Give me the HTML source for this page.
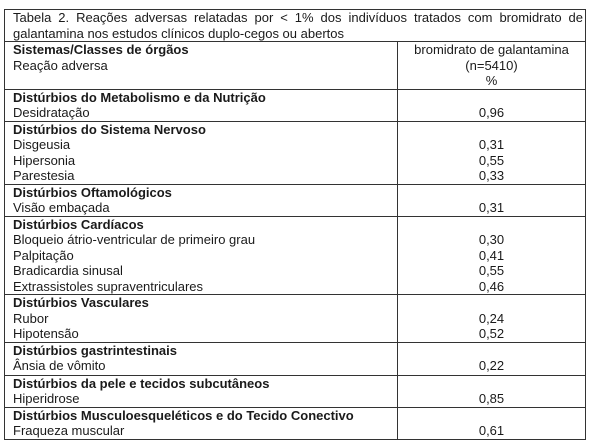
<!DOCTYPE html>
<html><head><meta charset="utf-8"><style>
body{margin:0;background:#fff;width:600px;height:445px;overflow:hidden;font-family:"Liberation Sans",Arial,sans-serif;font-size:13px;color:#1a1a1a}
table{position:absolute;left:4px;top:9px;width:581px;border-collapse:collapse;table-layout:fixed}
td{border:1px solid #333;padding:0 0 0 8px;vertical-align:top;line-height:15.5px;overflow:hidden;white-space:nowrap}
td.v{text-align:center;padding:0}
b{font-weight:bold}
.t1{text-align:justify;text-align-last:justify;width:570px}
</style></head><body>
<table>
<colgroup><col style="width:393px"><col style="width:188px"></colgroup>
<tr style="height:32px"><td colspan="2" style="padding-top:0"><div class="t1">Tabela 2. Reações adversas relatadas por &lt; 1% dos indivíduos tratados com bromidrato de</div>galantamina nos estudos clínicos duplo-cegos ou abertos</td></tr>
<tr style="height:47px"><td><b>Sistemas/Classes de órgãos</b><br>Reação adversa</td><td class="v">bromidrato de galantamina<br>(n=5410)<br>%</td></tr>
<tr style="height:32px"><td><b>Distúrbios do Metabolismo e da Nutrição</b><br>Desidratação</td><td class="v"><br>0,96</td></tr>
<tr style="height:61px"><td><b>Distúrbios do Sistema Nervoso</b><br>Disgeusia<br>Hipersonia<br>Parestesia</td><td class="v"><br>0,31<br>0,55<br>0,33</td></tr>
<tr style="height:32px"><td><b>Distúrbios Oftamológicos</b><br>Visão embaçada</td><td class="v"><br>0,31</td></tr>
<tr style="height:78px"><td><b>Distúrbios Cardíacos</b><br>Bloqueio átrio-ventricular de primeiro grau<br>Palpitação<br>Bradicardia sinusal<br>Extrassistoles supraventriculares</td><td class="v"><br>0,30<br>0,41<br>0,55<br>0,46</td></tr>
<tr style="height:47px"><td><b>Distúrbios Vasculares</b><br>Rubor<br>Hipotensão</td><td class="v"><br>0,24<br>0,52</td></tr>
<tr style="height:33px"><td><b>Distúrbios gastrintestinais</b><br>Ânsia de vômito</td><td class="v"><br>0,22</td></tr>
<tr style="height:31px"><td><b>Distúrbios da pele e tecidos subcutâneos</b><br>Hiperidrose</td><td class="v"><br>0,85</td></tr>
<tr style="height:32px"><td><b>Distúrbios Musculoesqueléticos e do Tecido Conectivo</b><br>Fraqueza muscular</td><td class="v"><br>0,61</td></tr>
</table>
</body></html>
